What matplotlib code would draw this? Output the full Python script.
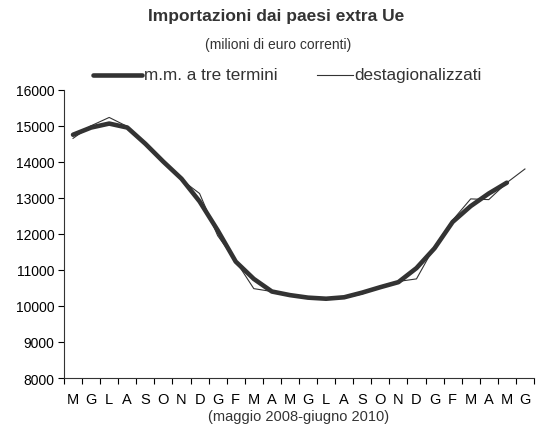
import numpy as np
import matplotlib
matplotlib.use("Agg")
import matplotlib.pyplot as plt
from matplotlib.lines import Line2D

plt.rcParams['font.family'] = ['Liberation Sans', 'DejaVu Sans']

# months from May 2008 to June 2010
months = ["M", "G", "L", "A", "S", "O", "N", "D", "G", "F", "M", "A", "M",
          "G", "L", "A", "S", "O", "N", "D", "G", "F", "M", "A", "M", "G"]
# seasonally adjusted (thin line)
destag = [14650, 15000, 15230, 14980, 14500, 14020, 13500, 13120, 11950, 11250,
          10480, 10400, 10280, 10230, 10180, 10220, 10330, 10550, 10680, 10750,
          11650, 12380, 12970, 12950, 13420, 13800]
# three-term moving average (thick line), ends one month earlier
mm3 = [14750, 14950, 15060, 14950, 14500, 14000, 13530, 12900, 12100, 11230,
       10750, 10400, 10300, 10230, 10200, 10240, 10370, 10520, 10660, 11050,
       11600, 12330, 12770, 13120, 13420]
yticks = list(range(8000, 16001, 1000))

col = "#333333"
thick_lw, thin_lw = 3.3, 0.8
fig = plt.figure(figsize=(5.41, 4.27), dpi=100)
ax = fig.add_axes([0.1183, 0.1124, 0.8687, 0.6752])

x = np.arange(len(months))
ax.plot(x[:len(mm3)], mm3, color=col, lw=thick_lw, solid_capstyle="round", zorder=2)
ax.plot(x, destag, color=col, lw=thin_lw, zorder=3)

ax.set_xlim(-0.5, len(months) - 0.5)
ax.set_ylim(8000, 16000)
ax.set_yticks(yticks)
ax.set_yticklabels([str(v) for v in yticks], fontsize=10)
ax.set_xticks(x)
ax.set_xticklabels(months, fontsize=10.5)
ax.set_xticks(np.arange(len(months) + 1) - 0.5, minor=True)
ax.tick_params(axis="x", which="major", length=0, pad=10)
ax.tick_params(axis="x", which="minor", length=4, direction="out", width=0.8)
ax.tick_params(axis="y", length=4, width=0.8, direction="out", pad=3)
for s in ("top", "right"):
    ax.spines[s].set_visible(False)
for s in ("left", "bottom"):
    ax.spines[s].set_color(col)
    ax.spines[s].set_linewidth(0.8)
ax.set_xlabel("(maggio 2008-giugno 2010)", fontsize=10.5, labelpad=2, color=col)

fig.text(0.51, 0.962, "Importazioni dai paesi extra Ue", ha="center", va="center",
         fontsize=12.5, fontweight="bold", color=col)
fig.text(0.514, 0.895, "(milioni di euro correnti)", ha="center", va="center",
         fontsize=10, color=col)

# legend drawn by hand, as in the original
ly = 0.823
fig.add_artist(Line2D([0.172, 0.262], [ly, ly], color=col, lw=thick_lw,
                      solid_capstyle="round", transform=fig.transFigure))
fig.text(0.267, ly, "m.m. a tre termini", ha="left", va="center", fontsize=12.3, color=col)
fig.add_artist(Line2D([0.586, 0.652], [ly, ly], color=col, lw=thin_lw,
                      transform=fig.transFigure))
fig.text(0.655, ly, "destagionalizzati", ha="left", va="center", fontsize=12.3, color=col)

fig.savefig("out.png", dpi=100)
